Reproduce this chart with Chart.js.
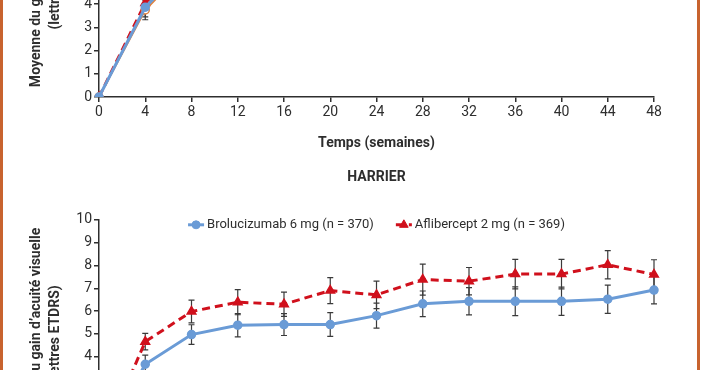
<!DOCTYPE html>
<html>
<head>
<meta charset="utf-8">
<script src="https://cdn.jsdelivr.net/npm/chart.js@4/dist/chart.umd.min.js"></script>
<style>
html, body { margin: 0; padding: 0; background: #fff; overflow: hidden; }
body { width: 702px; height: 370px; position: relative; }
.box { position: absolute; left: 0; width: 702px; height: 360px; }
#hawkBox { top: -200px; }
#harrierBox { top: 150px; }
.edge { position: absolute; top: 0; width: 3px; height: 370px; background: #c8632f; }
</style>
</head>
<body>
<div class="box" id="hawkBox"><canvas id="hawkChart" width="702" height="360"></canvas></div>
<div class="box" id="harrierBox"><canvas id="harrierChart" width="702" height="360"></canvas></div>
<div class="edge" style="left:0"></div>
<div class="edge" style="left:697px"></div>
<script>
// weeks on the x axis
const weekLabels = ['0', '4', '8', '12', '16', '20', '24', '28', '32', '36', '40', '44', '48'];

// HAWK (top panel, mostly cropped out)
const hawkBrolu6 = [0, 3.87, 5.9, 6.2, 6.3, 6.4, 6.3, 6.5, 6.5, 6.6, 6.5, 6.7, 6.6];
const hawkBrolu3 = [0, 3.75, 5.8, 6.0, 6.0, 6.1, 6.0, 6.2, 6.1, 6.3, 6.2, 6.2, 6.1];
const hawkAfli = [0, 4.05, 6.0, 6.3, 6.4, 6.5, 6.5, 6.6, 6.9, 6.8, 7.0, 7.1, 6.8];
const hawkBrolu6Err = [0, 0.42, 0.5, 0.5, 0.55, 0.55, 0.55, 0.6, 0.6, 0.6, 0.6, 0.6, 0.6];
const hawkBrolu3Err = [0, 0.42, 0.5, 0.5, 0.55, 0.55, 0.55, 0.6, 0.6, 0.6, 0.6, 0.6, 0.6];
const hawkAfliErr = [0, 0.4, 0.5, 0.5, 0.55, 0.55, 0.55, 0.6, 0.6, 0.6, 0.6, 0.6, 0.6];

// HARRIER (bottom panel)
const harrierBrolu6 = [0, 3.67, 4.97, 5.38, 5.41, 5.41, 5.80, 6.32, 6.43, 6.43, 6.43, 6.52, 6.92];
const harrierAfli = [0, 4.66, 5.98, 6.39, 6.30, 6.90, 6.71, 7.38, 7.31, 7.62, 7.62, 8.03, 7.60];
const harrierBrolu6Err = [0, 0.4, 0.43, 0.51, 0.48, 0.52, 0.55, 0.56, 0.6, 0.63, 0.62, 0.62, 0.6];
const harrierAfliErr = [0, 0.36, 0.5, 0.55, 0.53, 0.57, 0.6, 0.68, 0.6, 0.65, 0.65, 0.62, 0.65];

const BLUE = '#6a9bd6';
const RED = '#d0101c';
const ORANGE = '#e0823f';
const INK = '#2e2e2e';
const FONT = 'Roboto';

// draws the vertical error bars under the markers
const errorBarPlugin = {
    id: 'errorBars',
    beforeDatasetsDraw(chart) {
        const ctx = chart.ctx;
        const yScale = chart.scales.y;
        ctx.save();
        ctx.strokeStyle = '#3a3a3a';
        ctx.lineWidth = 1.2;
        chart.data.datasets.forEach((ds, i) => {
            if (!ds.errorBars) return;
            chart.getDatasetMeta(i).data.forEach((pt, j) => {
                const e = ds.errorBars[j];
                if (!e) return;
                const yTop = yScale.getPixelForValue(ds.data[j] + e);
                const yBot = yScale.getPixelForValue(ds.data[j] - e);
                ctx.beginPath();
                ctx.moveTo(pt.x, yTop); ctx.lineTo(pt.x, yBot);
                ctx.moveTo(pt.x - 3, yTop); ctx.lineTo(pt.x + 3, yTop);
                ctx.moveTo(pt.x - 3, yBot); ctx.lineTo(pt.x + 3, yBot);
                ctx.stroke();
            });
        });
        ctx.restore();
    }
};

// legend sitting inside the top of the plot area
const innerLegendPlugin = {
    id: 'innerLegend',
    afterDraw(chart, args, opts) {
        if (!opts.display) return;
        const ctx = chart.ctx;
        const area = chart.chartArea;
        ctx.save();
        ctx.font = '13px ' + FONT;
        const items = chart.data.datasets.map(ds => ({ ds, w: 19 + ctx.measureText(ds.label).width }));
        const gap = 22;
        const total = items.reduce((s, it) => s + it.w, 0) + gap * (items.length - 1);
        let x = (area.left + area.right) / 2 - total / 2;
        const y = area.top + 5;
        items.forEach(({ ds, w }) => {
            ctx.strokeStyle = ds.borderColor;
            ctx.lineWidth = 3;
            ctx.setLineDash(ds.borderDash || []);
            ctx.beginPath();
            ctx.moveTo(x, y); ctx.lineTo(x + 16, y);
            ctx.stroke();
            ctx.setLineDash([]);
            ctx.fillStyle = ds.pointBackgroundColor;
            ctx.strokeStyle = ds.pointBorderColor;
            ctx.lineWidth = 1;
            Chart.helpers.drawPoint(ctx, { pointStyle: ds.pointStyle, radius: ds.pointRadius, rotation: 0, borderWidth: 1 }, x + 8, y);
            ctx.fillStyle = INK;
            ctx.textBaseline = 'middle';
            ctx.textAlign = 'left';
            ctx.fillText(ds.label, x + 19, y);
            x += w + gap;
        });
        ctx.restore();
    }
};

function lineSet(label, data, err, color, dashed, style, fill, width) {
    return {
        label: label,
        data: data,
        errorBars: err,
        borderColor: color,
        borderWidth: width || 3,
        borderDash: dashed ? [8, 5] : [],
        pointStyle: style,
        pointRadius: style === 'triangle' ? 5 : 4,
        pointBackgroundColor: fill || color,
        pointBorderColor: color,
        pointBorderWidth: 1.5,
        tension: 0
    };
}

function axes(xHeight) {
    const grid = { drawOnChartArea: false, drawTicks: true, tickLength: 5, color: INK, lineWidth: 1.5 };
    const border = { display: true, color: INK, width: 1.5 };
    return {
        x: {
            type: 'category',
            grid: grid,
            border: border,
            ticks: { color: INK, font: { family: FONT, size: 14 }, padding: 2, maxRotation: 0, autoSkip: false },
            title: {
                display: true, text: 'Temps (semaines)', color: INK,
                font: { family: FONT, size: 14, weight: 'bold' },
                padding: { top: 0, bottom: 8 }
            },
            afterFit: s => { s.height = xHeight; }
        },
        y: {
            min: 0, max: 10,
            grid: grid,
            border: border,
            ticks: { stepSize: 1, color: INK, font: { family: FONT, size: 14 }, padding: 2 },
            title: {
                display: true,
                text: ['Moyenne du gain d\u2019acuité visuelle', '(lettres ETDRS)'],
                color: INK,
                font: { family: FONT, size: 14, weight: 'bold', lineHeight: 1.35 },
                padding: { top: 27, bottom: 0 }
            },
            afterFit: s => { s.width = 99; }
        }
    };
}

new Chart(document.getElementById('hawkChart'), {
    type: 'line',
    data: {
        labels: weekLabels,
        datasets: [
            lineSet('Brolucizumab 6 mg (n = 360)', hawkBrolu6, hawkBrolu6Err, BLUE, false, 'circle'),
            lineSet('Brolucizumab 3 mg (n = 358)', hawkBrolu3, hawkBrolu3Err, ORANGE, false, 'circle', '#ffffff', 1.8),
            lineSet('Aflibercept 2 mg (n = 360)', hawkAfli, hawkAfliErr, RED, true, 'triangle')
        ]
    },
    options: {
        responsive: false,
        animation: false,
        devicePixelRatio: 1,
        layout: { padding: { top: 65, right: 48, left: 0, bottom: 0 } },
        plugins: { legend: { display: false }, tooltip: { enabled: false }, innerLegend: { display: false } },
        scales: axes(63)
    },
    plugins: [errorBarPlugin, innerLegendPlugin]
});

new Chart(document.getElementById('harrierChart'), {
    type: 'line',
    data: {
        labels: weekLabels,
        datasets: [
            lineSet('Brolucizumab 6 mg (n = 370)', harrierBrolu6, harrierBrolu6Err, BLUE, false, 'circle'),
            lineSet('Aflibercept 2 mg (n = 369)', harrierAfli, harrierAfliErr, RED, true, 'triangle')
        ]
    },
    options: {
        responsive: false,
        animation: false,
        devicePixelRatio: 1,
        layout: { padding: { top: 0, right: 48, left: 0, bottom: 0 } },
        plugins: {
            legend: { display: false },
            tooltip: { enabled: false },
            title: {
                display: true, text: 'HARRIER', fullSize: false, color: INK,
                font: { family: FONT, size: 14, weight: 'bold' },
                padding: { top: 19, bottom: 34 }
            },
            innerLegend: { display: true }
        },
        scales: axes(62)
    },
    plugins: [errorBarPlugin, innerLegendPlugin]
});
</script>
</body>
</html>
